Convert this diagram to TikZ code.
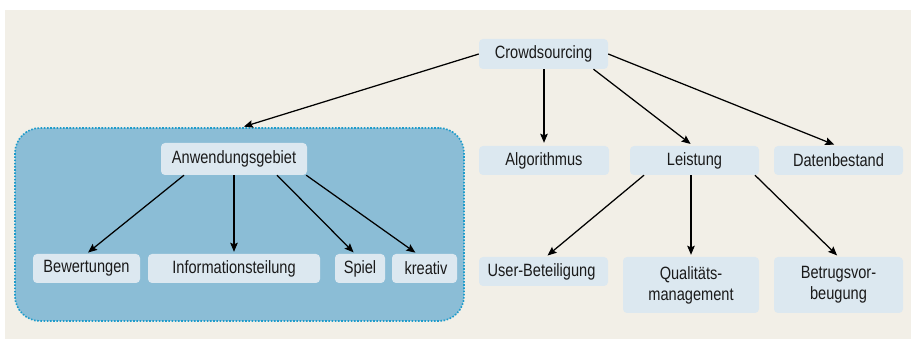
\documentclass[tikz,border=0pt]{standalone}
\usepackage{fontspec}
\setmainfont{Liberation Sans}[FakeStretch=0.82]
\usetikzlibrary{arrows.meta}
\definecolor{bgbeige}{HTML}{F2EFE7}
\definecolor{nodefill}{HTML}{DCE8F0}
\definecolor{groupfill}{HTML}{8BBDD6}
\definecolor{groupline}{HTML}{1E9CCB}
\definecolor{txt}{HTML}{1A1A1A}
\tikzset{
  box/.style={draw=none, fill=nodefill, rounded corners=4pt, inner sep=0pt,
    text=txt, font=\fontsize{17.8}{21}\selectfont, align=center},
  conn/.style={draw=black, line width=1.25pt,
    -{Stealth[length=9pt,width=7.5pt,inset=1.5pt]}, shorten >=2pt},
}
\begin{document}
\begin{tikzpicture}[x=1pt,y=-1pt]
\useasboundingbox (0,0) rectangle (911,339);
\fill[white] (0,0) rectangle (911,339);
\fill[bgbeige] (5,10) rectangle (911,339);
% group
\node[draw=groupline, fill=groupfill, line width=1.6pt, dash pattern=on 1.6pt off 1.6pt,
  rounded corners=25pt, minimum width=449pt, minimum height=193pt, inner sep=0pt]
  (group) at (239.5,224.5) {};
% nodes
\node[box, minimum width=129pt, minimum height=30pt] (crowd) at (543.5,54) {Crowdsourcing};
\node[box, minimum width=146pt, minimum height=32pt] (anw) at (234,159) {Anwendungsgebiet};
\node[box, minimum width=107pt, minimum height=29pt] (bew) at (86.5,268.5) {Bewertungen};
\node[box, minimum width=172pt, minimum height=29pt] (info) at (234,268.5) {Informationsteilung};
\node[box, minimum width=50pt, minimum height=29pt] (spiel) at (360,268.5) {Spiel};
\node[box, minimum width=65pt, minimum height=29pt] (kreativ) at (424.5,268.5) {\hspace{3pt}kreativ};
\node[box, minimum width=130pt, minimum height=29pt] (algo) at (544,160.5) {Algorithmus};
\node[box, minimum width=129pt, minimum height=29pt] (leist) at (694.5,160.5) {Leistung};
\node[box, minimum width=129pt, minimum height=29pt] (daten) at (838.5,160.5) {Datenbestand};
\node[box, minimum width=129pt, minimum height=29pt] (user) at (543.5,271.5) {User-Beteiligung\hspace{4pt}};
\node[box, minimum width=136pt, minimum height=56pt] (quali) at (691,285) {Qualitäts-\\management};
\node[box, minimum width=129pt, minimum height=56pt] (betrug) at (838.5,285) {Betrugsvor-\\beugung};
% connectors
\draw[conn] (crowd.west) -- ([xshift=2.5pt]group.north);
\draw[conn, shorten >=3pt] (crowd.south -| algo.north) -- (algo.north);
\draw[conn, shorten >=3pt] ([xshift=50pt]crowd.south) -- ([xshift=-1.5pt]leist.north);
\draw[conn, shorten >=3pt] (crowd.east) -- ([xshift=-1.5pt]daten.north);
\draw[conn] ([xshift=-50pt]anw.south) -- (bew.north);
\draw[conn] (anw.south) -- (info.north);
\draw[conn] ([xshift=43pt]anw.south) -- ([xshift=-5pt]spiel.north);
\draw[conn] ([xshift=-1pt]anw.south east) -- ([xshift=-7.5pt]kreativ.north);
\draw[conn] ([xshift=-50.5pt]leist.south) -- ([xshift=2.5pt]user.north);
\draw[conn] (leist.south -| quali.north) -- (quali.north);
\draw[conn] ([xshift=60.5pt]leist.south) -- (betrug.north);
\end{tikzpicture}
\end{document}
